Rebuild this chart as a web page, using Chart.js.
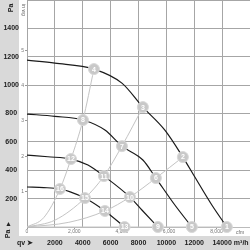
<!DOCTYPE html>
<html><head><meta charset="utf-8">
<script src="https://cdn.jsdelivr.net/npm/chart.js@4/dist/chart.umd.min.js"></script>
<style>html,body{margin:0;padding:0;background:#fff;overflow:hidden}canvas{display:block}</style>
</head><body><canvas id="c" width="250" height="250"></canvas>
<script>
// Fan curves (flow m³/h, pressure Pa)
const curve1Q = [0, 2000, 4803, 6810, 8315, 9892, 11183, 12043, 13262, 14337];
const curve1P = [1176, 1155, 1113, 1014, 845, 683, 493, 352, 155, 0];
const curve2Q = [0, 2000, 4014, 5591, 6810, 8315, 9247, 10609, 11828];
const curve2P = [796, 780, 754, 683, 570, 472, 345, 155, 0];
const curve3Q = [0, 1500, 3154, 4373, 5520, 7384, 8244, 9391];
const curve3P = [507, 495, 479, 437, 359, 211, 120, 0];
const curve4Q = [0, 1200, 2366, 3100, 4158, 5591, 7000];
const curve4P = [282, 278, 268, 248, 204, 113, 0];
// System (operating) lines
const sys1Q = [0, 1200, 2366, 3154, 4014, 4803];
const sys1P = [0, 66, 268, 479, 754, 1113];
const sys2Q = [0, 2000, 4158, 5520, 6810, 8315];
const sys2P = [0, 48, 204, 359, 570, 845];
const sys3Q = [0, 3000, 5591, 7384, 9247, 11183];
const sys3P = [0, 33, 113, 211, 345, 493];
const sys4Q = [0, 7000, 9391, 11828, 14337];
const sys4P = [0, 0, 0, 0, 0];
// Numbered operating points
const pointNumbers = [1, 2, 3, 4, 5, 6, 7, 8, 9, 10, 11, 12, 13, 14, 15, 16];
const pointQ = [14337, 11183, 8315, 4803, 11828, 9247, 6810, 4014, 9391, 7384, 5520, 3154, 7000, 5591, 4158, 2366];
const pointP = [0, 493, 845, 1113, 0, 345, 570, 754, 0, 211, 359, 479, 0, 113, 204, 268];
// Axes
const m3hGrid = [0, 2000, 4000, 6000, 8000, 10000, 12000, 14000, 16000];
const m3hLabels = [2000, 4000, 6000, 8000, 10000, 12000, 14000];
const paGrid = [0, 200, 400, 600, 800, 1000, 1200, 1400, 1600];
const paLabels = [200, 400, 600, 800, 1000, 1200, 1400];
const cfmLabels = [0, 2000, 4000, 6000, 8000];
const inwgLabels = [1, 2, 3, 4, 5];

const xy = (qs, ps) => qs.map((q, i) => ({x: q, y: ps[i]}));
const FONT = '"Liberation Sans", Arial, sans-serif';
const STRIP = '#d9d9d9';
const noPad = s => { s.paddingTop = 0; s.paddingBottom = 0; s.paddingLeft = 0; s.paddingRight = 0; };

const deco = {
  id: 'deco',
  beforeDraw(chart) {
    const ctx = chart.ctx, ya = chart.scales.y, xa = chart.scales.x;
    ctx.save();
    ctx.fillStyle = '#fff';
    ctx.fillRect(0, 0, chart.width, chart.height);
    ctx.fillStyle = STRIP;
    ctx.fillRect(ya.left, 0, ya.right - ya.left, chart.height);
    ctx.fillRect(0, xa.top, chart.width, xa.bottom - xa.top);
    ctx.restore();
  },
  afterDatasetsDraw(chart) {
    const ctx = chart.ctx;
    const meta = chart.getDatasetMeta(8);
    ctx.save();
    ctx.fillStyle = '#fff';
    ctx.font = 'bold 7px ' + FONT;
    ctx.textAlign = 'center';
    ctx.textBaseline = 'middle';
    meta.data.forEach((el, i) => ctx.fillText(String(pointNumbers[i]), el.x, el.y + 0.5));
    ctx.restore();
  },
  afterDraw(chart) {
    const ctx = chart.ctx, ya = chart.scales.y, yi = chart.scales.yi, xa = chart.scales.x, xc = chart.scales.xc;
    ctx.save();
    ctx.fillStyle = '#222';
    ctx.font = 'bold 7px ' + FONT;
    ctx.save();
    ctx.translate((ya.left + ya.right) / 2 + 2, 8);
    ctx.rotate(-Math.PI / 2);
    ctx.textAlign = 'center'; ctx.textBaseline = 'middle';
    ctx.fillText('Pa', 0, 0);
    ctx.restore();
    ctx.save();
    ctx.translate((ya.left + ya.right) / 2 - 1, 234);
    ctx.rotate(-Math.PI / 2);
    ctx.textAlign = 'center'; ctx.textBaseline = 'middle';
    ctx.fillText('Pa', 0, 0);
    ctx.restore();
    ctx.textAlign = 'center'; ctx.textBaseline = 'middle';
    ctx.fillText('▲', (ya.left + ya.right) / 2 - 1, 224);
    ctx.fillStyle = '#666';
    ctx.font = '5px ' + FONT;
    ctx.save();
    ctx.translate((yi.left + yi.right) / 2, 10);
    ctx.rotate(Math.PI / 2);
    ctx.textAlign = 'center'; ctx.textBaseline = 'middle';
    ctx.fillText('in wg', 0, 0);
    ctx.restore();
    ctx.textAlign = 'left';
    ctx.fillText('cfm', 236, (xc.top + xc.bottom) / 2 + 1);
    ctx.fillStyle = '#222';
    ctx.font = 'bold 7px ' + FONT;
    const yMid = (xa.top + xa.bottom) / 2;
    ctx.fillText('qv', 17, yMid);
    ctx.fillText('➤', 27, yMid);
    const x14 = xa.getPixelForValue(14000);
    ctx.fillText('m³/h', x14 + ctx.measureText('14000').width / 2 + 2, yMid);
    ctx.restore();
  }
};

const lineDs = (qs, ps, color, width, order) => ({
  data: xy(qs, ps), borderColor: color, borderWidth: width, pointRadius: 0,
  showLine: true, fill: false, cubicInterpolationMode: 'monotone', order
});

new Chart(document.getElementById('c'), {
  type: 'scatter',
  data: {
    datasets: [
      lineDs(curve1Q, curve1P, '#1a1a1a', 1.2, 1),
      lineDs(curve2Q, curve2P, '#1a1a1a', 1.2, 1),
      lineDs(curve3Q, curve3P, '#1a1a1a', 1.2, 1),
      lineDs(curve4Q, curve4P, '#1a1a1a', 1.2, 1),
      lineDs(sys1Q, sys1P, '#c4c4c4', 1, 2),
      lineDs(sys2Q, sys2P, '#c4c4c4', 1, 2),
      lineDs(sys3Q, sys3P, '#c4c4c4', 1, 2),
      lineDs(sys4Q, sys4P, '#c4c4c4', 1, 2),
      {
        data: xy(pointQ, pointP), showLine: false, pointRadius: 5.5,
        pointBackgroundColor: '#c8c8c8', pointBorderColor: '#d8d8d8', pointBorderWidth: 1, order: 0,
        clip: false
      }
    ]
  },
  options: {
    responsive: false, animation: false, events: [],
    layout: {padding: 0, autoPadding: false},
    plugins: {legend: {display: false}, tooltip: {enabled: false}},
    scales: {
      x: {
        type: 'linear', position: 'bottom', weight: 1, min: 0, max: 16000,
        afterBuildTicks: s => { s.ticks = m3hGrid.map(v => ({value: v})); },
        afterFit: s => { s.height = 14; noPad(s); },
        ticks: {
          callback: v => m3hLabels.includes(v) ? String(v) : '',
          font: {family: FONT, size: 7, weight: 'bold'}, color: '#222', padding: 3, maxRotation: 0, autoSkip: false
        },
        grid: {color: '#a6a6a6', lineWidth: 1, drawTicks: false},
        border: {display: false}
      },
      xc: {
        type: 'linear', position: 'bottom', weight: 0, min: 0, max: 16000 / 1.699,
        afterBuildTicks: s => { s.ticks = cfmLabels.map(v => ({value: v})); },
        afterFit: s => { s.height = 9; noPad(s); },
        ticks: {font: {family: FONT, size: 5}, color: '#777', padding: 0, maxRotation: 0, autoSkip: false},
        grid: {drawOnChartArea: false, drawTicks: true, tickLength: 2, color: '#999'},
        border: {display: true, color: '#bbb'}
      },
      y: {
        type: 'linear', position: 'left', weight: 1, min: 0, max: 1600,
        afterBuildTicks: s => { s.ticks = paGrid.map(v => ({value: v})); },
        afterFit: s => { s.width = 19; noPad(s); },
        ticks: {
          callback: v => paLabels.includes(v) ? String(v) : '',
          font: {family: FONT, size: 7, weight: 'bold'}, color: '#222', padding: 0, crossAlign: 'center', autoSkip: false
        },
        grid: {color: '#a6a6a6', lineWidth: 1, drawTicks: false},
        border: {display: false}
      },
      yi: {
        type: 'linear', position: 'left', weight: 0, min: 0, max: 1600 / 249.09,
        afterBuildTicks: s => { s.ticks = inwgLabels.map(v => ({value: v})); },
        afterFit: s => { s.width = 8; noPad(s); },
        ticks: {font: {family: FONT, size: 5}, color: '#777', padding: 1, autoSkip: false},
        grid: {drawOnChartArea: false, drawTicks: true, tickLength: 2, color: '#999'},
        border: {display: false}
      }
    }
  },
  plugins: [deco]
});
</script>
</body></html>
